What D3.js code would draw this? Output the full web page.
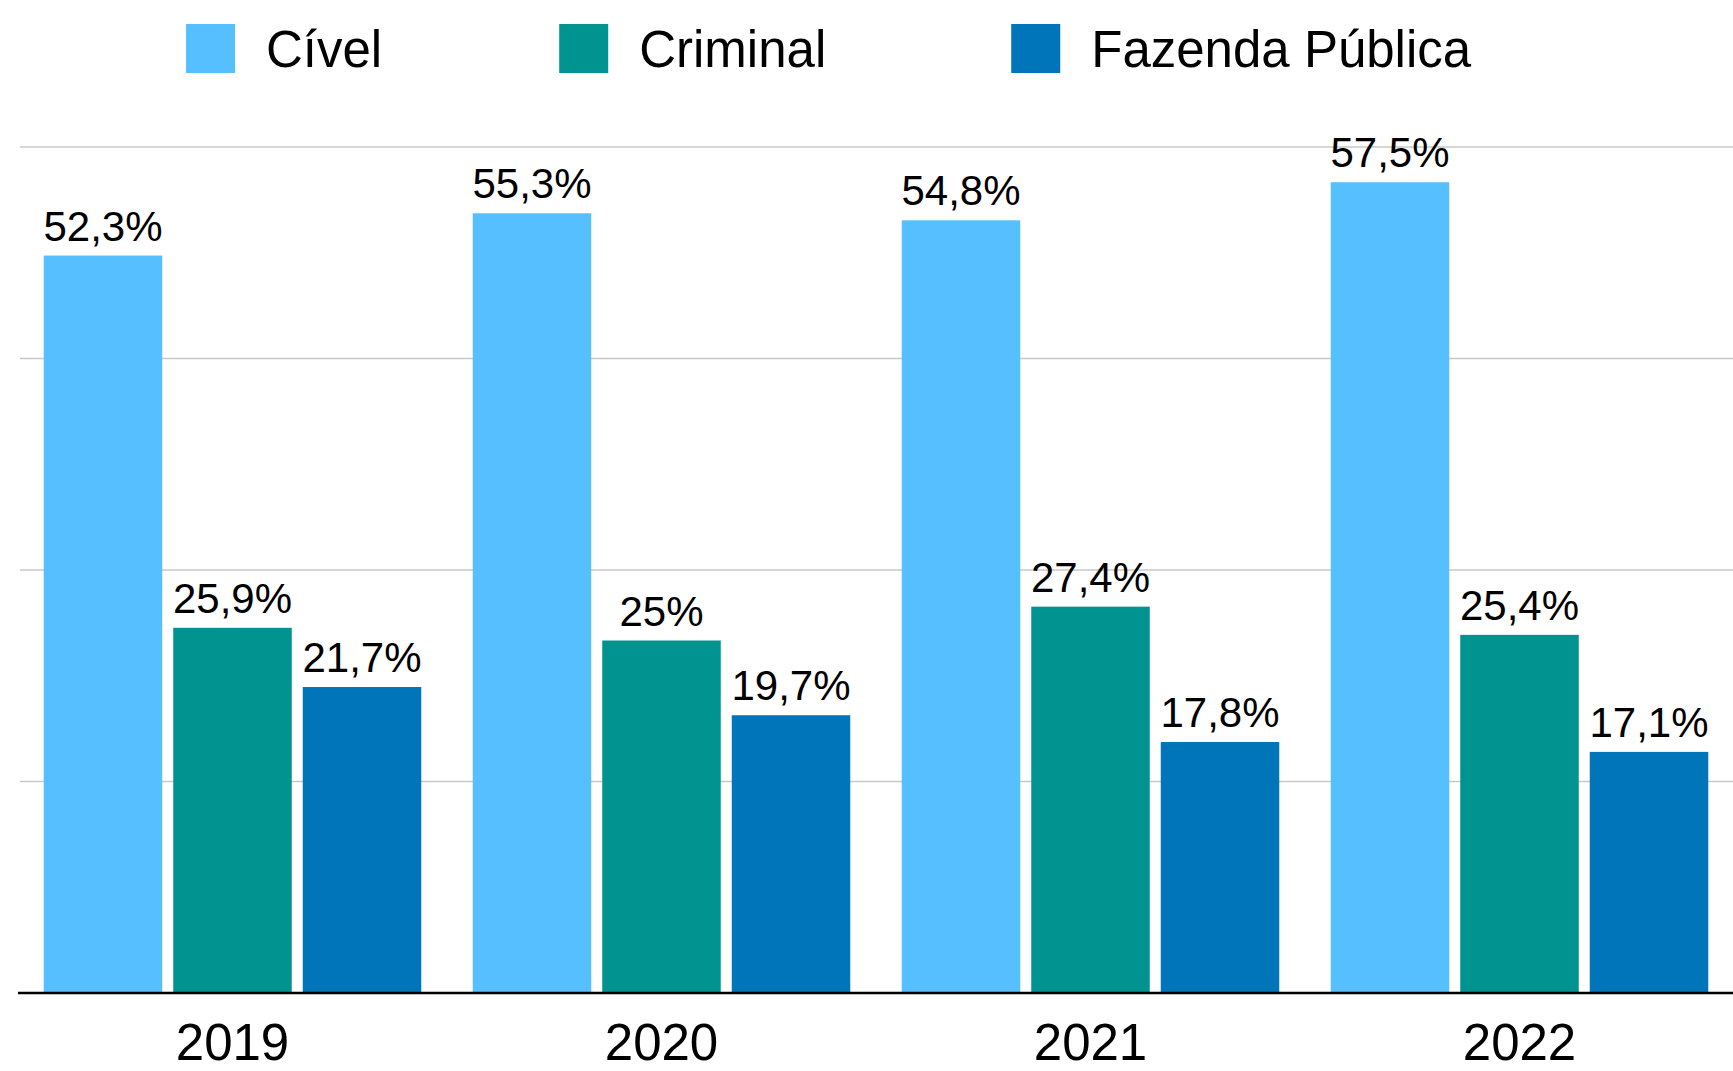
<!DOCTYPE html>
<html>
<head>
<meta charset="utf-8">
<script src="https://cdn.jsdelivr.net/npm/d3@7"></script>
<style>
  body { margin: 0; background: #fff; }
  svg { display: block; font-family: "Liberation Sans", Arial, Helvetica, sans-serif; }
</style>
</head>
<body>
<svg id="chart" width="1733" height="1071"></svg>
<script>
const YEARS = ["2019", "2020", "2021", "2022"];
const SERIES = ["Cível", "Criminal", "Fazenda Pública"];
const CIVEL = [52.3, 55.3, 54.8, 57.5];
const CRIMINAL = [25.9, 25, 27.4, 25.4];
const FAZENDA = [21.7, 19.7, 17.8, 17.1];
const GRID_TICKS = [15, 30, 45, 60];
const COLORS = ["#55bfff", "#00938f", "#0075ba"];

const width = 1733;
const plotTop = 147;
const baseline = 993;

const values = [CIVEL, CRIMINAL, FAZENDA];
const rows = YEARS.map((year, i) => ({
  year,
  bars: SERIES.map((name, s) => ({ name, s, value: values[s][i] }))
}));

const svg = d3.select("#chart");

const x0 = d3.scaleBand().domain(YEARS).range([18, 1734]).paddingInner(0.12).paddingOuter(0.06);
const x1 = d3.scaleBand().domain(SERIES).range([0, x0.bandwidth()]).paddingInner(0.085);
const y = d3.scaleLinear().domain([0, 60]).range([baseline, plotTop]);
const color = d3.scaleOrdinal().domain(SERIES).range(COLORS);

const fmt = (v) => (Number.isInteger(v) ? String(v) : v.toFixed(1).replace(".", ",")) + "%";

// grid
svg.append("g").selectAll("line").data(GRID_TICKS).enter().append("line")
  .attr("x1", 20).attr("x2", width)
  .attr("y1", (d) => y(d)).attr("y2", (d) => y(d))
  .attr("stroke", "#c8c8c8").attr("stroke-width", 1.5);

// bars
const groups = svg.append("g").selectAll("g").data(rows).enter().append("g")
  .attr("transform", (d) => `translate(${x0(d.year)},0)`);

groups.selectAll("rect").data((d) => d.bars).enter().append("rect")
  .attr("x", (d) => x1(d.name))
  .attr("y", (d) => y(d.value))
  .attr("width", x1.bandwidth())
  .attr("height", (d) => baseline - y(d.value))
  .attr("fill", (d) => color(d.name));

groups.selectAll("text").data((d) => d.bars).enter().append("text")
  .attr("x", (d) => x1(d.name) + x1.bandwidth() / 2)
  .attr("y", (d) => y(d.value) - 15)
  .attr("text-anchor", "middle")
  .attr("font-size", 42)
  .attr("fill", "#000")
  .text((d) => fmt(d.value));

// baseline
svg.append("line").attr("x1", 18).attr("x2", width).attr("y1", baseline).attr("y2", baseline)
  .attr("stroke", "#000").attr("stroke-width", 2.5);

// x axis labels (kept just inside the bottom edge)
const xAxis = svg.append("g").attr("transform", `translate(0,${baseline})`)
  .call(d3.axisBottom(x0).tickSize(0).tickPadding(31));
xAxis.select(".domain").remove();
xAxis.selectAll("text").attr("font-size", 51).attr("fill", "#000")
  .attr("font-family", "\"Liberation Sans\", Arial, Helvetica, sans-serif")
  .attr("dy", "0.71em");

// legend
const legend = svg.append("g");
let lx = 186;
SERIES.forEach((name, i) => {
  const item = legend.append("g").attr("transform", `translate(${lx},0)`);
  item.append("rect").attr("x", 0).attr("y", 24).attr("width", 49).attr("height", 49).attr("fill", color(name));
  const t = item.append("text").attr("x", 80).attr("y", 67).attr("font-size", 51).attr("fill", "#000").text(name);
  lx += 80 + t.node().getComputedTextLength() + (i === 0 ? 177 : 185);
});
</script>
</body>
</html>
